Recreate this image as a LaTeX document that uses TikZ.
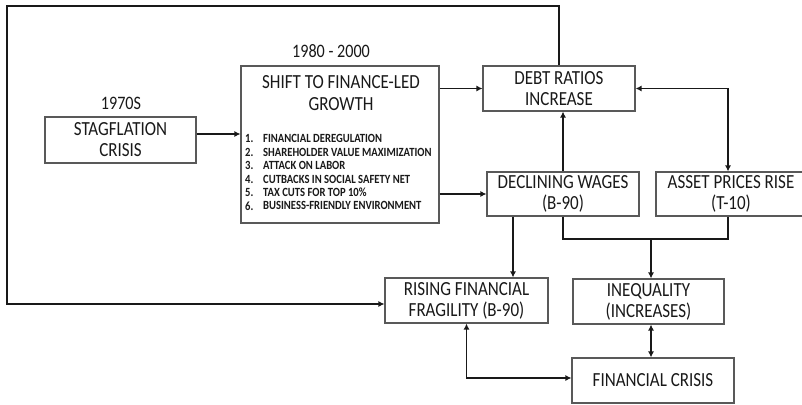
\documentclass[tikz,border=0pt]{standalone}
\usepackage{fontspec}
\setmainfont[FakeStretch=0.85]{Carlito}
\usetikzlibrary{arrows.meta}
\begin{document}
\begin{tikzpicture}[x=1pt,y=-1pt,
  box/.style={draw=black!65, line width=1.1pt, inner sep=0pt, align=center,
    font=\fontsize{20}{21}\selectfont, text=black!90},
  lbl/.style={font=\fontsize{19}{21}\selectfont, text=black!90, inner sep=0pt},
  conn/.style={line width=1.8pt, black!90},
  arr/.style={conn, -{Latex[length=6pt,width=6pt]}},
  arrb/.style={conn, {Latex[length=6pt,width=6pt]}-{Latex[length=6pt,width=6pt]}},
  item/.style={font=\fontsize{12.5}{13}\bfseries\selectfont, text=black!90, inner sep=0pt, anchor=west}
]
\useasboundingbox (0,0) rectangle (802,404);
\fill[white] (0,0) rectangle (802,404);

\node[lbl] (l70) at (121,103) {1970S};
\node[lbl] (l80) at (331,51) {1980 - 2000};

\node[box, minimum width=151pt, minimum height=46pt] (stag) at (120.5,140) {STAGFLATION\\CRISIS};
\node[box, minimum width=198pt, minimum height=157pt] (shift) at (340,144.5) {};
\node[box, draw=none, font=\fontsize{20}{22}\selectfont] (shiftt) at (341,93) {SHIFT TO FINANCE-LED\\GROWTH};
\foreach \n/\t [count=\i] in {1/FINANCIAL DEREGULATION,2/SHAREHOLDER VALUE MAXIMIZATION,3/ATTACK ON LABOR,4/CUTBACKS IN SOCIAL SAFETY NET,5/TAX CUTS FOR TOP 10\%,6/BUSINESS-FRIENDLY ENVIRONMENT}{
  \node[item] (n\i) at (245,{125.5+13.4*\i}) {\n.};
  \node[item] (t\i) at (263,{125.5+13.4*\i}) {\t};
}

\node[box, minimum width=152pt, minimum height=45pt] (debt) at (559,88.5) {DEBT RATIOS\\INCREASE};
\node[box, minimum width=152pt, minimum height=44pt] (decl) at (563,194) {DECLINING WAGES\\(B-90)};
\node[box, minimum width=150pt, minimum height=44pt] (assetb) at (731,194) {};
\node[box, draw=none] (asset) at (731,194) {ASSET PRICES RISE\\(T-10)};
\node[box, minimum width=163pt, minimum height=45pt] (rising) at (466.5,300.5) {RISING FINANCIAL\\FRAGILITY (B-90)};
\node[box, minimum width=151pt, minimum height=45pt] (ineq) at (648.5,301.5) {INEQUALITY\\(INCREASES)};
\node[box, minimum width=162pt, minimum height=45pt] (crisis) at (653,380.5) {FINANCIAL CRISIS};

\coordinate (tl) at (7,6);
\coordinate (j) at (651,239);

\draw[arr] ([yshift=6pt]stag.east) -- ([yshift=6pt]stag.east -| shift.west);
\draw[arr] (shift.east |- debt.west) -- (debt.west);
\draw[arr] (shift.east |- decl.west) -- (decl.west);
\draw[arr] (decl.north) -- (decl.north |- debt.south);
\draw[arrb] (debt.east) -| ([xshift=-3pt]assetb.north);
\draw[conn] (decl.south) |- (j) -| ([xshift=-3pt]assetb.south);
\draw[arr] (j) -- (j |- ineq.north);
\draw[arr] ([xshift=-50pt]decl.south) -- ([xshift=-50pt]decl.south |- rising.north);
\draw[arr, line width=2.2pt] (debt.north) |- (tl) |- ([yshift=-3.5pt]rising.west);
\draw[arrb] (rising.south) |- ([yshift=2.5pt]crisis.west);
\draw[arrb] (j |- ineq.south) -- (j |- crisis.north);
\end{tikzpicture}
\end{document}
